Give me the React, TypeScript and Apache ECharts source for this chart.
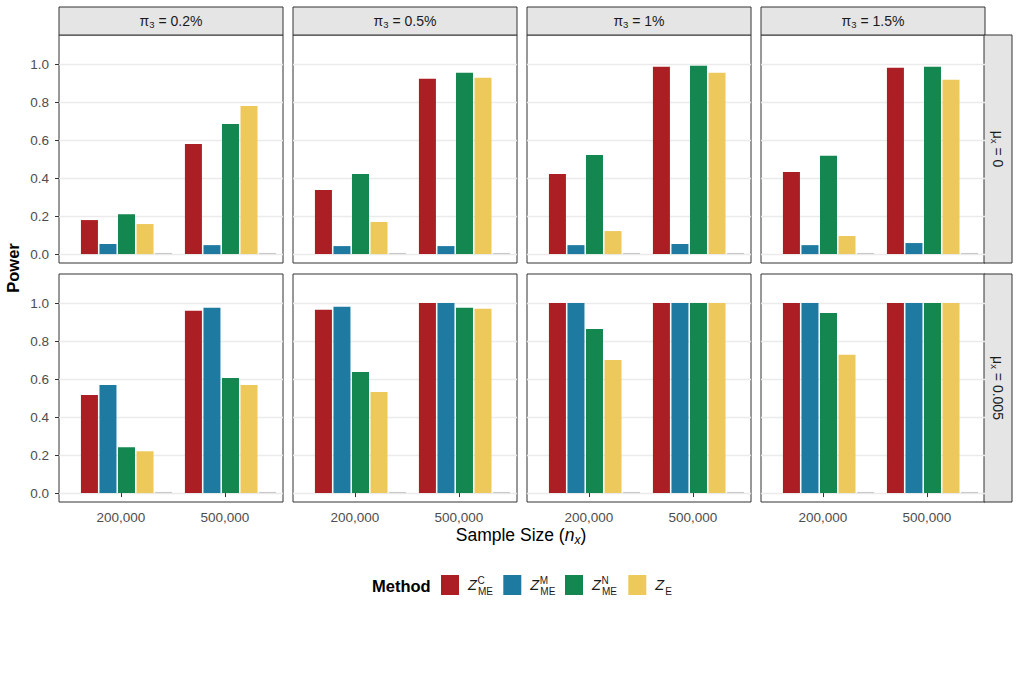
import React, { useEffect, useRef } from 'react';
import * as echarts from 'echarts';

// ---- data ----
const sampleSizes = ['200,000', '500,000'];
const piLevels = ['0.2%', '0.5%', '1%', '1.5%'];
const muLevels = ['0', '0.005'];
const powerTicks = [0, 0.2, 0.4, 0.6, 0.8, 1.0];
const powerTickLabels = ['0.0', '0.2', '0.4', '0.6', '0.8', '1.0'];

// power per facet column (π3 level), each pair = [200,000, 500,000]
const zmeC_mu0 = [[0.179, 0.579], [0.337, 0.923], [0.422, 0.986], [0.432, 0.981]];
const zmeM_mu0 = [[0.053, 0.047], [0.042, 0.042], [0.047, 0.053], [0.047, 0.058]];
const zmeN_mu0 = [[0.21, 0.684], [0.422, 0.954], [0.522, 0.991], [0.517, 0.986]];
const zE_mu0 = [[0.158, 0.779], [0.169, 0.928], [0.121, 0.954], [0.095, 0.917]];

const zmeC_mu005 = [[0.516, 0.96], [0.965, 1.0], [1.0, 1.0], [1.0, 1.0]];
const zmeM_mu005 = [[0.569, 0.975], [0.98, 1.0], [1.0, 1.0], [1.0, 1.0]];
const zmeN_mu005 = [[0.241, 0.606], [0.637, 0.975], [0.863, 1.0], [0.948, 1.0]];
const zE_mu005 = [[0.22, 0.569], [0.532, 0.97], [0.7, 1.0], [0.728, 1.0]];

// empty fifth dodge slot (no legend entry)
const emptySlot = [[0.006, 0.006], [0.006, 0.006], [0.006, 0.006], [0.006, 0.006]];

const methods = [
  { name: 'ZME_C', sup: 'C', sub: 'ME', color: '#AB1F24', rows: [zmeC_mu0, zmeC_mu005] },
  { name: 'ZME_M', sup: 'M', sub: 'ME', color: '#1F7AA1', rows: [zmeM_mu0, zmeM_mu005] },
  { name: 'ZME_N', sup: 'N', sub: 'ME', color: '#13874F', rows: [zmeN_mu0, zmeN_mu005] },
  { name: 'Z_E', sup: '', sub: 'E', color: '#EDC95C', rows: [zE_mu0, zE_mu005] },
];

// ---- layout ----
const FONT = '"Liberation Sans", Arial, Helvetica, sans-serif';
const panelLeft0 = 59;
const panelStep = 234;
const panelW = 224;
const panelTops = [35, 274];
const panelH = 228;
const yMin = -0.047;
const yMax = 1.153;
// discrete x positions (1-based) with padding on both sides
const xMin = 0.351;
const xMax = 2.505;
const labelShift = 0.053; // tick/label position relative to dodge-group centre

export default function App() {
  const ref = useRef<HTMLDivElement>(null);

  useEffect(() => {
    if (!ref.current) return;
    const chart = echarts.init(ref.current, undefined, { renderer: 'svg' });

    const grids: any[] = [];
    const xAxes: any[] = [];
    const yAxes: any[] = [];
    const series: any[] = [];
    const graphics: any[] = [];
    const xTickValues = sampleSizes.map((_, i) => i + 1 - labelShift);

    const toPairs = (vals: number[]) => vals.map((v, i) => [i + 1, v]);

    for (let r = 0; r < muLevels.length; r++) {
      for (let c = 0; c < piLevels.length; c++) {
        const gi = r * piLevels.length + c;
        const left = panelLeft0 + c * panelStep;
        const top = panelTops[r];
        const isBottom = r === muLevels.length - 1;
        const isLeft = c === 0;
        grids.push({
          left,
          top,
          width: panelW,
          height: panelH,
          show: true,
          backgroundColor: '#ffffff',
          borderColor: '#333333',
          borderWidth: 1,
          z: 0,
        });
        xAxes.push({
          type: 'value',
          gridIndex: gi,
          min: xMin,
          max: xMax,
          axisLine: { show: false },
          axisTick: {
            show: isBottom,
            length: 4,
            customValues: xTickValues,
            lineStyle: { color: '#333333' },
          },
          axisLabel: {
            show: isBottom,
            customValues: xTickValues,
            color: '#4d4d4d',
            fontSize: 13.5,
            fontFamily: FONT,
            margin: 8,
            formatter: (v: number) => sampleSizes[Math.round(v) - 1] ?? '',
          },
          splitLine: { show: false },
        });
        yAxes.push({
          type: 'value',
          gridIndex: gi,
          min: yMin,
          max: yMax,
          axisLine: { show: false },
          axisTick: {
            show: isLeft,
            length: 4,
            customValues: powerTicks,
            lineStyle: { color: '#333333' },
          },
          axisLabel: {
            show: isLeft,
            customValues: powerTicks,
            color: '#4d4d4d',
            fontSize: 13.5,
            fontFamily: FONT,
            margin: 10,
            formatter: (v: number) => {
              const i = powerTicks.findIndex((t) => Math.abs(t - v) < 1e-6);
              return i >= 0 ? powerTickLabels[i] : '';
            },
          },
          splitLine: { show: true, lineStyle: { color: '#ebebeb', width: 1.3 } },
        });

        methods.forEach((m) => {
          series.push({
            type: 'bar',
            name: m.name,
            xAxisIndex: gi,
            yAxisIndex: gi,
            data: toPairs(m.rows[r][c]),
            itemStyle: { color: m.color },
            barWidth: 17,
            barGap: '9%',
            silent: true,
          });
        });
        series.push({
          type: 'bar',
          name: 'empty',
          xAxisIndex: gi,
          yAxisIndex: gi,
          data: toPairs(emptySlot[c]),
          itemStyle: { color: '#c9c9c9' },
          barWidth: 17,
          barGap: '9%',
          silent: true,
        });

        // top facet strips
        if (r === 0) {
          graphics.push({
            type: 'rect',
            shape: { x: left, y: 7, width: panelW, height: 28 },
            style: { fill: '#e5e5e5', stroke: '#333333', lineWidth: 1 },
          });
          graphics.push({
            type: 'text',
            x: left + panelW / 2,
            y: 21,
            style: {
              text: `{p|π}{s|3}{p| = ${piLevels[c]}}`,
              align: 'center',
              verticalAlign: 'middle',
              fill: '#1a1a1a',
              rich: {
                p: { fontSize: 14, fontFamily: FONT, lineHeight: 17, fill: '#1a1a1a' },
                s: { fontSize: 9.5, fontFamily: FONT, lineHeight: 10, verticalAlign: 'bottom', fill: '#1a1a1a' },
              },
            },
          });
        }
      }
      // right facet strips
      graphics.push({
        type: 'rect',
        shape: { x: 984, y: panelTops[r], width: 28, height: panelH },
        style: { fill: '#e5e5e5', stroke: '#333333', lineWidth: 1 },
      });
      graphics.push({
        type: 'text',
        x: 998,
        y: panelTops[r] + panelH / 2,
        rotation: -Math.PI / 2,
        style: {
          text: `{p|μ}{s|x}{p| = ${muLevels[r]}}`,
          align: 'center',
          verticalAlign: 'middle',
          fill: '#1a1a1a',
          rich: {
            p: { fontSize: 14, fontFamily: FONT, lineHeight: 17, fill: '#1a1a1a' },
            s: { fontSize: 9.5, fontFamily: FONT, lineHeight: 10, verticalAlign: 'bottom', fill: '#1a1a1a' },
          },
        },
      });
    }

    // axis titles
    graphics.push({
      type: 'text',
      x: 13,
      y: 268,
      rotation: Math.PI / 2,
      style: {
        text: 'Power',
        align: 'center',
        verticalAlign: 'middle',
        fontSize: 16.5,
        fontWeight: 'bold',
        fontFamily: FONT,
        fill: '#000000',
      },
    });
    graphics.push({
      type: 'text',
      x: 521,
      y: 535,
      style: {
        text: '{t|Sample Size (}{i|n}{s|x}{t|)}',
        align: 'center',
        verticalAlign: 'middle',
        rich: {
          t: { fontSize: 17.5, fontFamily: FONT, lineHeight: 21, fill: '#000000' },
          i: { fontSize: 17.5, fontFamily: FONT, fontStyle: 'italic', lineHeight: 21, fill: '#000000' },
          s: { fontSize: 12, fontFamily: FONT, fontStyle: 'italic', lineHeight: 13, verticalAlign: 'bottom', fill: '#000000' },
        },
      },
    });

    // legend
    graphics.push({
      type: 'text',
      x: 372,
      y: 586,
      style: {
        text: 'Method',
        align: 'left',
        verticalAlign: 'middle',
        fontSize: 16.5,
        fontWeight: 'bold',
        fontFamily: FONT,
        fill: '#000000',
      },
    });
    const keyXs = [441, 503.3, 565, 628.3];
    methods.forEach((m, i) => {
      const kx = keyXs[i];
      graphics.push({
        type: 'rect',
        shape: { x: kx, y: 575, width: 18, height: 20 },
        style: { fill: m.color },
      });
      const zx = kx + 27;
      graphics.push({
        type: 'text',
        x: zx,
        y: 585,
        style: {
          text: 'Z',
          align: 'left',
          verticalAlign: 'middle',
          fontSize: 14.5,
          fontStyle: 'italic',
          fontFamily: FONT,
          fill: '#1a1a1a',
        },
      });
      if (m.sup) {
        graphics.push({
          type: 'text',
          x: zx + 9.5,
          y: 580,
          style: {
            text: m.sup,
            align: 'left',
            verticalAlign: 'middle',
            fontSize: 10,
            fontFamily: FONT,
            fill: '#1a1a1a',
          },
        });
      }
      graphics.push({
        type: 'text',
        x: zx + 10,
        y: 591.5,
        style: {
          text: m.sub,
          align: 'left',
          verticalAlign: 'middle',
          fontSize: 10,
          fontFamily: FONT,
          fill: '#1a1a1a',
        },
      });
    });

    chart.setOption({
      animation: false,
      backgroundColor: '#ffffff',
      grid: grids,
      xAxis: xAxes,
      yAxis: yAxes,
      series,
      graphic: { elements: graphics },
    });

    return () => {
      chart.dispose();
    };
  }, []);

  return (
    <div
      ref={ref}
      style={{ position: 'absolute', left: 0, top: 0, width: 1020, height: 694 }}
    />
  );
}
